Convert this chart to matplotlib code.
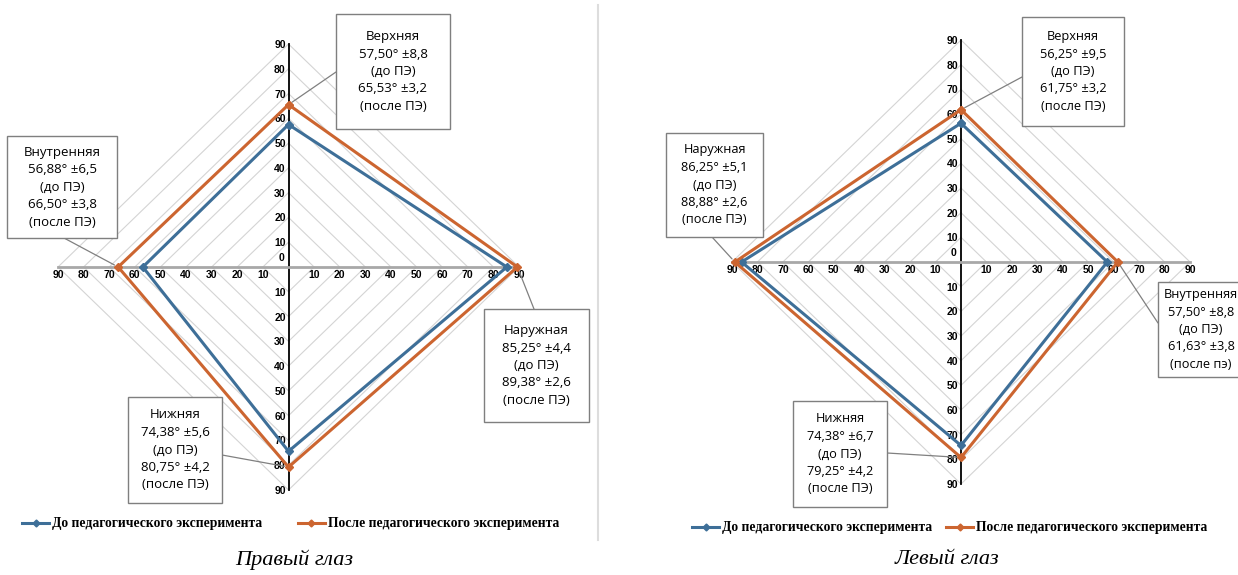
import matplotlib
matplotlib.use("Agg")
import matplotlib.pyplot as plt
from matplotlib.patches import Rectangle
from matplotlib.lines import Line2D
from matplotlib.ticker import FuncFormatter

W, H = 1238, 575

# order of directions: top, right, bottom, left
right_names = ["Верхняя", "Наружная", "Нижняя", "Внутренняя"]
right_before = [57.50, 85.25, 74.38, 56.88]
right_before_sd = [8.8, 4.4, 5.6, 6.5]
right_after = [65.53, 89.38, 80.75, 66.50]
right_after_sd = [3.2, 2.6, 4.2, 3.8]

left_names = ["Верхняя", "Внутренняя", "Нижняя", "Наружная"]
left_before = [56.25, 57.50, 74.38, 86.25]
left_before_sd = [9.5, 8.8, 6.7, 5.1]
left_after = [61.75, 61.63, 79.25, 88.88]
left_after_sd = [3.2, 3.8, 4.2, 2.6]
left_after_tag = ["(после ПЭ)", "(после пэ)", "(после ПЭ)", "(после ПЭ)"]

ticks = [-90, -80, -70, -60, -50, -40, -30, -20, -10, 0, 10, 20, 30, 40, 50, 60, 70, 80, 90]
rings = [10, 20, 30, 40, 50, 60, 70, 80, 90]

series_names = ["До педагогического эксперимента", "После педагогического эксперимента"]
blue = "#3e6f98"
orange = "#cc6530"

dirs = [(0, 1), (1, 0), (0, -1), (-1, 0)]


def to_xy(vals):
    xs = [v * d[0] for v, d in zip(vals, dirs)]
    ys = [v * d[1] for v, d in zip(vals, dirs)]
    return xs + xs[:1], ys + ys[:1]


def fmt(v):
    return f"{v:.2f}".replace(".", ",")


def fig_xy(px, py):
    return px / W, 1 - py / H


fig = plt.figure(figsize=(W / 100, H / 100), dpi=100)


def draw_chart(rect, before, after):
    ax = fig.add_axes(rect)
    ax.set_xlim(-90, 90)
    ax.set_ylim(-90, 90)
    for r in rings:
        ax.plot([0, r, 0, -r, 0], [r, 0, -r, 0, r], color="#d4d4d4", lw=0.8, zorder=1)
    for side in ["top", "right"]:
        ax.spines[side].set_visible(False)
    ax.spines["left"].set_position("zero")
    ax.spines["bottom"].set_position("zero")
    ax.spines["left"].set_color("black")
    ax.spines["left"].set_linewidth(1.3)
    ax.spines["bottom"].set_color("#a8a8a8")
    ax.spines["bottom"].set_linewidth(2)
    ax.set_xticks(ticks)
    ax.set_yticks(ticks)
    ax.xaxis.set_major_formatter(FuncFormatter(lambda v, p: "" if v == 0 else f"{abs(v):.0f}"))
    ax.yaxis.set_major_formatter(FuncFormatter(lambda v, p: "" if v == 0 else f"{abs(v):.0f}"))
    ax.tick_params(length=0, pad=2, labelsize=7.5)
    for lab in ax.get_xticklabels() + ax.get_yticklabels():
        lab.set_fontweight("bold")
        lab.set_fontfamily("Liberation Sans")
    ax.annotate("0", xy=(0, 0), xytext=(-3, 3), textcoords="offset points",
                ha="right", va="bottom", fontsize=7.5, fontweight="bold",
                family="Liberation Sans")
    ax.patch.set_alpha(0)
    bx, by = to_xy(before)
    axx, ayy = to_xy(after)
    ax.plot(bx, by, color=blue, lw=2.2, marker="D", ms=4, zorder=4, clip_on=False)
    ax.plot(axx, ayy, color=orange, lw=2.2, marker="D", ms=4, zorder=4, clip_on=False)
    return ax


def draw_box(ax, box, anchor, point, text, fs=9.5):
    x0, y0, x1, y1 = box
    fig.add_artist(Rectangle(fig_xy(x0, y1), (x1 - x0) / W, (y1 - y0) / H,
                             transform=fig.transFigure, fc="white", ec="#7f7f7f",
                             lw=1, zorder=5))
    fig.text((x0 + x1) / 2 / W, 1 - (y0 + y1) / 2 / H, text, ha="center", va="center",
             fontsize=fs, family="Open Sans", linespacing=1.45, zorder=6)
    ax.annotate("", xy=point, xycoords="data", xytext=fig_xy(*anchor),
                textcoords="figure fraction",
                arrowprops=dict(arrowstyle="-", color="#808080", lw=0.9,
                                shrinkA=0, shrinkB=3), zorder=3)


def label(name, b, bsd, a, asd, tag="(после ПЭ)"):
    return f"{name}\n{fmt(b)}° ±{bsd:.1f}\n(до ПЭ)\n{fmt(a)}° ±{asd:.1f}\n{tag}".replace(".", ",")


# right eye (left panel)
axL = draw_chart([58 / W, 1 - 490 / H, 461 / W, 446 / H], right_before, right_after)
boxesL = [(336, 14, 450, 129), (484, 309, 589, 422), (128, 397, 222, 503), (7, 136, 117, 238)]
anchorsL = [(336, 72), (534, 309), (222, 455), (64, 238)]
for i in range(4):
    pt = (right_after[i] * dirs[i][0], right_after[i] * dirs[i][1])
    draw_box(axL, boxesL[i], anchorsL[i], pt,
             label(right_names[i], right_before[i], right_before_sd[i],
                   right_after[i], right_after_sd[i]))

# left eye (right panel)
axR = draw_chart([732 / W, 1 - 484 / H, 458 / W, 444 / H], left_before, left_after)
boxesR = [(1022, 17, 1124, 126), (1158, 282, 1244, 377), (793, 401, 887, 507), (666, 133, 763, 237)]
anchorsR = [(1022, 77), (1158, 323), (887, 453), (712, 237)]
for i in range(4):
    pt = (left_after[i] * dirs[i][0], left_after[i] * dirs[i][1])
    draw_box(axR, boxesR[i], anchorsR[i], pt,
             label(left_names[i], left_before[i], left_before_sd[i],
                   left_after[i], left_after_sd[i], left_after_tag[i]), fs=9.2)

handles = [Line2D([], [], color=blue, lw=2.2, marker="D", ms=3.5),
           Line2D([], [], color=orange, lw=2.2, marker="D", ms=3.5)]
for x0, y0, sp in [(10, 524, 2.6), (680, 528, 1.0)]:
    fig.legend(handles, series_names, loc="center left", bbox_to_anchor=fig_xy(x0, y0),
               ncol=2, frameon=False, handlelength=2.0, handletextpad=0.2,
               columnspacing=sp, prop={"family": "Liberation Serif", "weight": "bold", "size": 9.8})

fig.text(294 / W, 1 - 560 / H, "Правый глаз", ha="center", va="center",
         family="Liberation Serif", style="italic", fontsize=16)
fig.text(947 / W, 1 - 560 / H, "Левый глаз", ha="center", va="center",
         family="Liberation Serif", style="italic", fontsize=16)

fig.add_artist(Line2D([598 / W, 598 / W], [1 - 5 / H, 1 - 540 / H], color="#dddddd", lw=1.5))

fig.savefig("out.png", dpi=100)
